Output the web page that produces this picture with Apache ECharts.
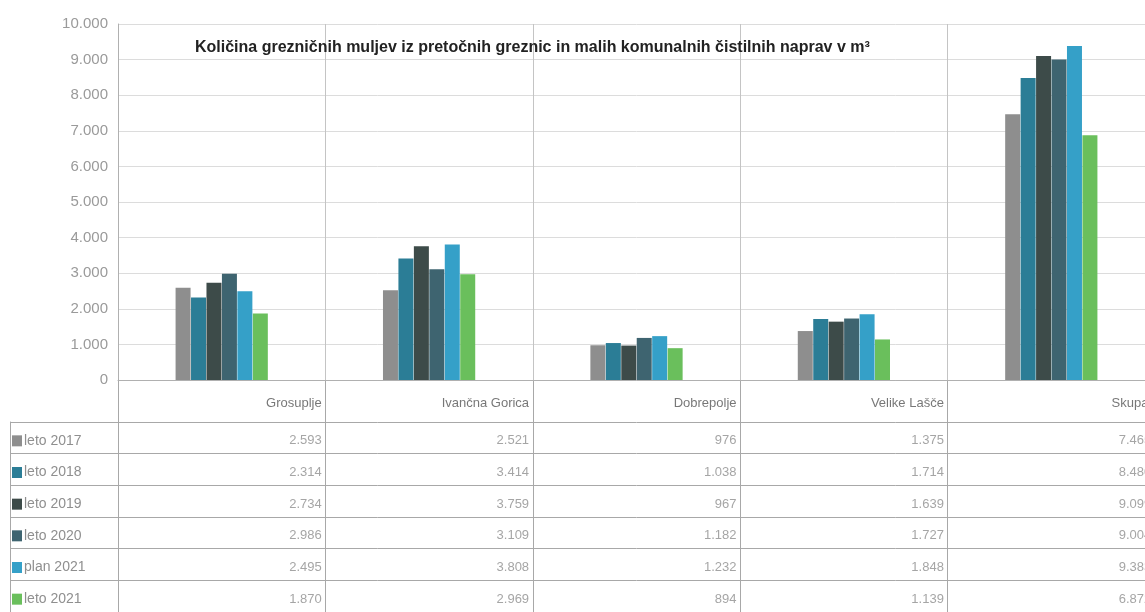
<!DOCTYPE html>
<html>
<head>
<meta charset="utf-8">
<script src="https://cdn.jsdelivr.net/npm/echarts@6/dist/echarts.min.js"></script>
<style>
html,body{margin:0;padding:0;background:#fff;overflow:hidden;width:1145px;height:612px;}
#c{width:1170px;height:612px;}
</style>
</head>
<body>
<div id="c"></div>
<script>
const categories = ['Grosuplje', 'Ivančna Gorica', 'Dobrepolje', 'Velike Lašče', 'Skupaj'];
const seriesNames = ['leto 2017', 'leto 2018', 'leto 2019', 'leto 2020', 'plan 2021', 'leto 2021'];
const leto2017 = [2593, 2521, 976, 1375, 7465];
const leto2018 = [2314, 3414, 1038, 1714, 8480];
const leto2019 = [2734, 3759, 967, 1639, 9099];
const leto2020 = [2986, 3109, 1182, 1727, 9004];
const plan2021 = [2495, 3808, 1232, 1848, 9383];
const leto2021 = [1870, 2969, 894, 1139, 6872];
const yTicks = [0, 1000, 2000, 3000, 4000, 5000, 6000, 7000, 8000, 9000, 10000];
const titleText = 'Količina grezničnih muljev iz pretočnih greznic in malih komunalnih čistilnih naprav v m³';

const seriesValues = [leto2017, leto2018, leto2019, leto2020, plan2021, leto2021];
const colors = ['#8e8e8e', '#2b7d96', '#3d4b49', '#3e6470', '#35a0c8', '#6abf5c'];

function fmt(v) {
  return String(v).replace(/\B(?=(\d{3})+(?!\d))/g, '.');
}

const gridLeft = 118;
const gridWidth = 1037;
const font = 'Liberation Sans, Arial, sans-serif';
const lineGray = '#a8a8a8';

const rich = {};
colors.forEach((c, i) => {
  rich['s' + i] = { width: 10, height: 11, backgroundColor: c };
});
rich.t = { color: '#8f8f8f', fontSize: 14, fontFamily: font, padding: [0, 0, 0, 2] };

const series = [];
seriesNames.forEach((name, i) => {
  series.push({
    name: name,
    type: 'bar',
    xAxisIndex: 0, yAxisIndex: 0,
    data: seriesValues[i],
    barWidth: 15,
    barGap: '3%',
    itemStyle: { color: colors[i] },
    animation: false
  });
  series.push({
    name: name + ' tab',
    type: 'scatter',
    xAxisIndex: 2, yAxisIndex: 2,
    symbolSize: 0,
    data: seriesValues[i].map((v, j) => [j, i, v]),
    label: {
      show: true,
      position: 'inside',
      align: 'right',
      offset: [100, 3],
      color: '#8f8f8f',
      fontSize: 13,
      fontFamily: font,
      formatter: p => fmt(p.value[2])
    },
    animation: false
  });
});

series.push({
  name: 'header',
  type: 'scatter',
  xAxisIndex: 1, yAxisIndex: 1,
  symbolSize: 0,
  data: categories.map((c, j) => [j, 0, c]),
  label: {
    show: true,
    position: 'inside',
    align: 'right',
    offset: [100, 2],
    color: '#555',
    fontSize: 13,
    fontFamily: font,
    formatter: p => p.value[2]
  },
  animation: false
});

const option = {
  backgroundColor: '#fff',
  animation: false,
  title: {
    text: titleText,
    left: 190,
    top: 35,
    textStyle: { fontSize: 16, fontWeight: 'bold', color: '#222', fontFamily: font }
  },
  grid: [
    { left: gridLeft, top: 24, width: gridWidth, height: 356 },
    { left: gridLeft, top: 380, width: gridWidth, height: 42 },
    { left: gridLeft, top: 422, width: gridWidth, height: 197 }
  ],
  xAxis: [
    {
      gridIndex: 0, type: 'category', data: categories,
      axisLabel: { show: false }, axisTick: { show: false },
      axisLine: { lineStyle: { color: '#b0b0b0' } },
      splitLine: { show: true, lineStyle: { color: '#c4c4c4' } }
    },
    {
      gridIndex: 1, type: 'category', data: categories,
      axisLabel: { show: false }, axisTick: { show: false },
      axisLine: { show: false },
      splitLine: { show: true, lineStyle: { color: lineGray } }
    },
    {
      gridIndex: 2, type: 'category', data: categories,
      axisLabel: { show: false }, axisTick: { show: false },
      axisLine: { show: false },
      splitLine: { show: true, lineStyle: { color: lineGray } }
    }
  ],
  yAxis: [
    {
      gridIndex: 0, type: 'value', min: 0, max: 10000, interval: 1000,
      axisLine: { show: true, lineStyle: { color: '#b0b0b0' } },
      axisTick: { show: false },
      axisLabel: { color: '#9a9a9a', fontSize: 15, fontFamily: font, margin: 10, formatter: v => fmt(v) },
      splitLine: { show: true, lineStyle: { color: '#dcdcdc' } }
    },
    {
      gridIndex: 1, type: 'category', data: [''],
      axisLine: { show: true, lineStyle: { color: lineGray } },
      axisTick: { show: false }, axisLabel: { show: false },
      splitLine: { show: false }
    },
    {
      gridIndex: 2, type: 'category', data: seriesNames, inverse: true,
      axisLine: { show: true, lineStyle: { color: lineGray } },
      axisTick: { show: true, length: 108, lineStyle: { color: lineGray } },
      axisLabel: {
        align: 'left', margin: 106,
        padding: [6, 0, 0, 0],
        formatter: (v, i) => '{s' + i + '|}{t|' + v + '}',
        rich: rich
      },
      splitLine: { show: true, lineStyle: { color: lineGray } }
    },
    {
      gridIndex: 2, type: 'category', data: seriesNames, inverse: true,
      position: 'left', offset: 108,
      axisLine: { show: true, lineStyle: { color: lineGray } },
      axisTick: { show: false }, axisLabel: { show: false },
      splitLine: { show: false }
    }
  ],
  series: series
};

const chart = echarts.init(document.getElementById('c'), null, { renderer: 'canvas' });
chart.setOption(option);
</script>
</body>
</html>
